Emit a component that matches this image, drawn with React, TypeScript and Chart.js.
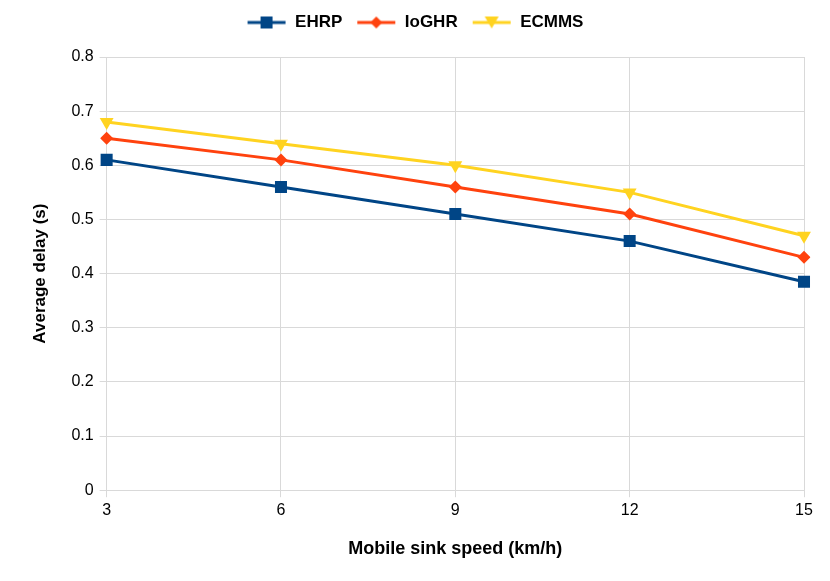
import Chart, { ChartConfiguration } from "chart.js/auto";
import React, { useRef } from "react";

const speeds = ["3", "6", "9", "12", "15"];
const ehrp = [0.61, 0.56, 0.51, 0.46, 0.385];
const ioghr = [0.65, 0.61, 0.56, 0.51, 0.43];
const ecmms = [0.68, 0.64, 0.6, 0.55, 0.47];

const FONT = "'Liberation Sans', Arial, sans-serif";

const makeLegendIcon = (color: string, style: string) => {
  const c = document.createElement("canvas");
  c.width = 40;
  c.height = 14;
  const g = c.getContext("2d");
  g.strokeStyle = color;
  g.fillStyle = color;
  g.lineWidth = 3;
  g.beginPath();
  g.moveTo(1, 7);
  g.lineTo(39, 7);
  g.stroke();
  g.beginPath();
  if (style === "rect") {
    g.rect(14, 1, 12, 12);
  } else if (style === "rectRot") {
    g.moveTo(20, 1);
    g.lineTo(26, 7);
    g.lineTo(20, 13);
    g.lineTo(14, 7);
  } else {
    g.moveTo(13, 1);
    g.lineTo(27, 1);
    g.lineTo(20, 13);
  }
  g.closePath();
  g.fill();
  return c;
};

// push the plot area down a bit below the legend
const legendMargin = {
  id: "legendMargin",
  beforeInit(chart) {
    const fit = chart.legend.fit;
    chart.legend.fit = function () {
      fit.bind(chart.legend)();
      this.height += 16;
    };
  },
};

const App = () => {
  const canvasEl = useRef(null);
  React.useEffect(() => {
    document.body.style.margin = "0";
    const ctx = canvasEl.current.getContext("2d");

    const series = [
      { label: "EHRP", data: ehrp, color: "#004586", style: "rect", radius: 8.5, rotation: 0 },
      { label: "IoGHR", data: ioghr, color: "#ff420e", style: "rectRot", radius: 6.5, rotation: 0 },
      { label: "ECMMS", data: ecmms, color: "#ffd320", style: "triangle", radius: 8, rotation: 180 },
    ];
    const icons = series.map((s) => makeLegendIcon(s.color, s.style));

    const config = {
      type: "line",
      data: {
        labels: speeds,
        datasets: series.map((s) => ({
          label: s.label,
          data: s.data,
          borderColor: s.color,
          backgroundColor: s.color,
          borderWidth: 3,
          pointStyle: s.style,
          pointRadius: s.radius,
          pointRotation: s.rotation,
          pointBorderWidth: 0,
          tension: 0,
        })),
      },
      options: {
        responsive: false,
        animation: false,
        layout: { padding: { left: 26, right: 26, top: 0, bottom: 17 } },
        plugins: {
          tooltip: { enabled: false },
          legend: {
            position: "top",
            labels: {
              usePointStyle: true,
              pointStyleWidth: 40,
              boxWidth: 40,
              boxHeight: 14,
              color: "#000",
              padding: 14,
              font: { family: FONT, size: 17, weight: "bold" },
              generateLabels: (chart) =>
                chart.data.datasets.map((d, i) => ({
                  text: d.label,
                  pointStyle: icons[i],
                  fillStyle: series[i].color,
                  strokeStyle: series[i].color,
                  lineWidth: 0,
                  hidden: false,
                  datasetIndex: i,
                  fontColor: "#000",
                })),
            },
          },
        },
        scales: {
          x: {
            offset: false,
            grid: { color: "#d9d9d9", tickLength: 7, drawTicks: true },
            border: { color: "#d9d9d9" },
            ticks: { color: "#000", font: { family: FONT, size: 16 }, padding: 4 },
            title: {
              display: true,
              text: "Mobile sink speed (km/h)",
              color: "#000",
              font: { family: FONT, size: 18, weight: "bold" },
              padding: { top: 14 },
            },
          },
          y: {
            min: 0,
            max: 0.8,
            grid: { color: "#d9d9d9", tickLength: 7 },
            border: { color: "#d9d9d9" },
            ticks: {
              stepSize: 0.1,
              color: "#000",
              font: { family: FONT, size: 16 },
              padding: 6,
              callback: (v) => String(Math.round(Number(v) * 10) / 10),
            },
            title: {
              display: true,
              text: "Average delay (s)",
              color: "#000",
              font: { family: FONT, size: 17, weight: "bold" },
              padding: { bottom: 15 },
            },
          },
        },
      },
      plugins: [legendMargin],
    } as ChartConfiguration;
    const chart = new Chart(ctx, config);

    return () => {
      chart.destroy();
    };
  }, []);
  return (
    <div style={{ width: 830, height: 581, background: "#fff" }}>
      <canvas ref={canvasEl} width={830} height={581}></canvas>
    </div>
  );
};

export default App;
